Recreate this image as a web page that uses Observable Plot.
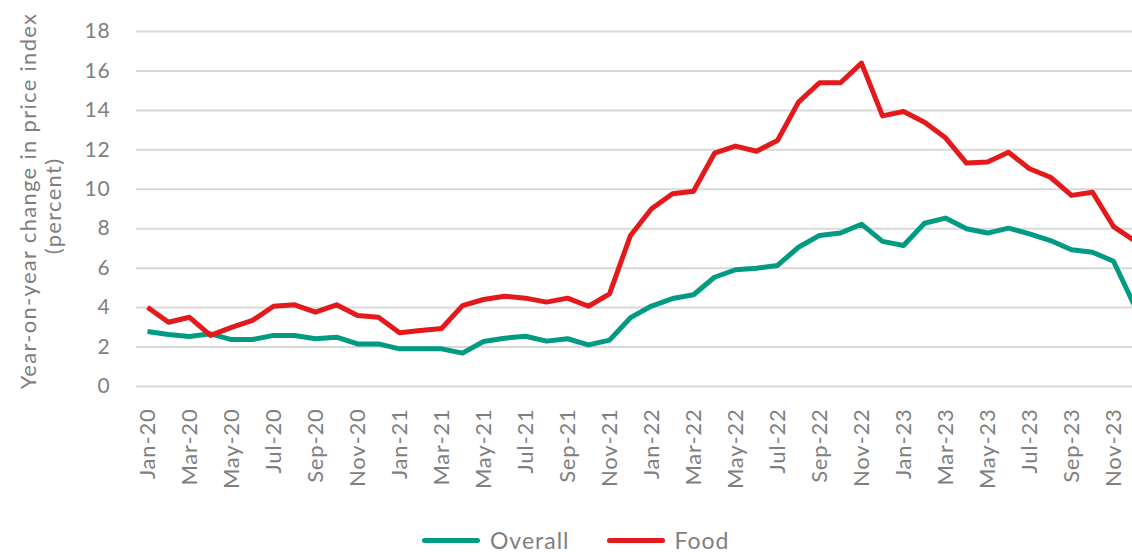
<!DOCTYPE html>
<html>
<head>
<meta charset="utf-8">
<script src="https://cdn.jsdelivr.net/npm/d3@7"></script>
<script src="https://cdn.jsdelivr.net/npm/@observablehq/plot@0.6"></script>
<style>
  html, body { margin: 0; padding: 0; background: #fff; overflow: hidden; width: 1132px; height: 552px; position: relative; }
  #chart { width: 1144px; }
  #chart svg { display: block; max-width: none !important; }
  #chart svg text { letter-spacing: 0.8px; }
  #chart svg .ytitle text { letter-spacing: 1.3px; }
  .legend { position: absolute; left: 422px; top: 529px; height: 22px; line-height: 22px; display: flex; align-items: center; font-family: Lato, "Open Sans", sans-serif; font-size: 23px; letter-spacing: 1px; color: #7f7f7f; }
  .legend .item { display: flex; align-items: center; margin-right: 37px; }
  .legend .sw { width: 58px; height: 5px; border-radius: 3px; margin-right: 10px; }
</style>
</head>
<body>
<div id="chart"></div>
<div class="legend" id="legend"></div>
<script>
const months = [
  "Jan-20","Feb-20","Mar-20","Apr-20","May-20","Jun-20","Jul-20","Aug-20","Sep-20","Oct-20","Nov-20","Dec-20",
  "Jan-21","Feb-21","Mar-21","Apr-21","May-21","Jun-21","Jul-21","Aug-21","Sep-21","Oct-21","Nov-21","Dec-21",
  "Jan-22","Feb-22","Mar-22","Apr-22","May-22","Jun-22","Jul-22","Aug-22","Sep-22","Oct-22","Nov-22","Dec-22",
  "Jan-23","Feb-23","Mar-23","Apr-23","May-23","Jun-23","Jul-23","Aug-23","Sep-23","Oct-23","Nov-23","Dec-23"
];
const overall = [
  2.79, 2.64, 2.54, 2.67, 2.38, 2.38, 2.59, 2.59, 2.42, 2.50, 2.16, 2.16,
  1.91, 1.91, 1.91, 1.69, 2.28, 2.45, 2.55, 2.30, 2.42, 2.11, 2.35, 3.49,
  4.08, 4.46, 4.65, 5.54, 5.92, 6.00, 6.14, 7.06, 7.66, 7.78, 8.23, 7.36,
  7.15, 8.28, 8.54, 8.00, 7.78, 8.03, 7.74, 7.40, 6.93, 6.81, 6.35, 4.10
];
const food = [
  4.02, 3.26, 3.51, 2.59, 3.00, 3.35, 4.07, 4.14, 3.77, 4.14, 3.60, 3.51,
  2.72, 2.84, 2.94, 4.10, 4.41, 4.58, 4.48, 4.28, 4.48, 4.07, 4.70, 7.66,
  9.01, 9.77, 9.90, 11.83, 12.19, 11.93, 12.47, 14.42, 15.40, 15.40, 16.40, 13.72,
  13.94, 13.40, 12.61, 11.33, 11.38, 11.88, 11.04, 10.61, 9.69, 9.85, 8.11, 7.40
];
const seriesNames = ["Overall", "Food"];
const seriesColors = ["#009B82", "#E3191B"];
const yTicks = [0, 2, 4, 6, 8, 10, 12, 14, 16, 18];
const xTickLabels = months.filter((d, i) => i % 2 === 0);
const yTitle1 = "Year-on-year change in price index";
const yTitle2 = "(percent)";

const data = [];
months.forEach((m, i) => {
  data.push({month: m, series: seriesNames[0], value: overall[i]});
  data.push({month: m, series: seriesNames[1], value: food[i]});
});

const font = "Lato, 'Open Sans', sans-serif";
const gray = "#7f7f7f";

const chart = Plot.plot({
  width: 1144,
  height: 520,
  marginLeft: 136,
  marginRight: 0,
  marginTop: 31,
  marginBottom: 134,
  style: {fontFamily: font, color: gray, background: "#fff", overflow: "visible", maxWidth: "none"},
  x: {type: "point", domain: months, padding: 0.5},
  y: {domain: [0, 18]},
  color: {domain: seriesNames, range: seriesColors},
  marks: [
    Plot.ruleY(yTicks, {stroke: "#d9d9d9", strokeWidth: 2}),
    Plot.axisY({ticks: yTicks, tickSize: 0, tickPadding: 26, fontSize: 21, label: null, fill: gray}),
    Plot.axisX({ticks: xTickLabels, tickSize: 0, tickPadding: 22, tickRotate: -90, fontSize: 22, label: null, fill: gray}),
    Plot.line(data, {x: "month", y: "value", z: "series", stroke: "series", strokeWidth: 5, strokeLinejoin: "round", strokeLinecap: "butt"}),
    Plot.text([yTitle1], {frameAnchor: "left", textAnchor: "middle", dx: -108, dy: -8, rotate: -90, fontSize: 22, fill: gray, text: d => d, className: "ytitle"}),
    Plot.text([yTitle2], {frameAnchor: "left", textAnchor: "middle", dx: -83, dy: -3, rotate: -90, fontSize: 22, fill: gray, text: d => d, className: "ytitle"})
  ]
});
document.getElementById("chart").appendChild(chart);

const legend = document.getElementById("legend");
seriesNames.forEach((name, i) => {
  const item = document.createElement("div");
  item.className = "item";
  const sw = document.createElement("span");
  sw.className = "sw";
  sw.style.background = seriesColors[i];
  const label = document.createElement("span");
  label.textContent = name;
  item.appendChild(sw);
  item.appendChild(label);
  legend.appendChild(item);
});
</script>
</body>
</html>
